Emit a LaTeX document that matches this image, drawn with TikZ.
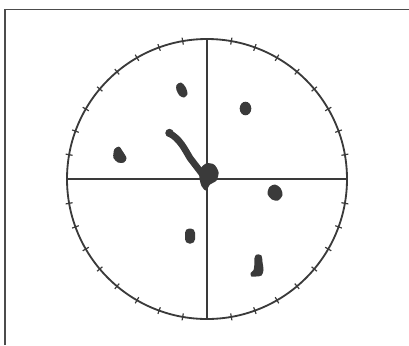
\documentclass[tikz,border=0pt]{standalone}
\usetikzlibrary{calc}
\definecolor{inkgray}{HTML}{3A3A3A}
\begin{document}
\begin{tikzpicture}[x=0.025cm, y=-0.025cm,
  frame/.style={draw=black!70, line width=1.1pt},
  dial/.style={draw=inkgray, line width=1.3pt},
  axisline/.style={draw=inkgray, line width=0.75pt},
  dialtick/.style={draw=inkgray, line width=0.85pt},
  blob/.style={fill=inkgray, draw=none},
  hand/.style={draw=inkgray, line width=4.8pt, line cap=round, line join=round}
]
\useasboundingbox (0,0) rectangle (409,345);
\coordinate (c) at (207,179);
\coordinate (n) at (207,39);
\coordinate (s) at (207,319);
\coordinate (w) at (67,179);
\coordinate (e) at (347,179);
% frame, cut off at right and bottom
\draw[frame] (5,345) -- (5,9.5) -- (409,9.5);
% dial with cross and ticks
\draw[dial] (c) circle [radius=140];
\draw[axisline] (w) -- (e);
\draw[axisline] (n) -- (s);
\foreach \q in {0,90,180,270}
  \foreach \d in {10,20,...,80}
    \draw[dialtick] ($(c)+(\q+\d:136.5)$) -- ($(c)+(\q+\d:143.5)$);
% spots
\fill[blob] plot[smooth cycle] coordinates {(176.5,85) (181,82.5) (185.5,87) (187.5,94) (184,97.5) (179.5,95.5) (176.5,90)};
\fill[blob] (245.5,108.5) ellipse [x radius=5.8, y radius=6.8];
\fill[blob] plot[smooth cycle] coordinates {(114.5,149) (119,146.5) (122.5,151) (126.5,158) (124,162.5) (118,162.5) (113.5,158) (113.5,153)};
\fill[blob] plot[smooth cycle] coordinates {(269.5,187) (275,184.5) (280.5,188) (282.5,195) (278,200.5) (272,199.5) (267.5,194)};
\fill[blob, rounded corners=3pt] (185,228.5) rectangle (195,243.5);
\fill[blob] plot[smooth cycle] coordinates {(256.5,254.5) (261.5,255.5) (262.5,262) (263.5,270) (261.5,275.5) (256,276.5) (251.5,276.5) (250.5,273) (253.5,270) (254.5,263) (254.5,258)};
% hand and hub
\draw[hand] (169,133) .. controls (180,139) and (184,148) .. (190,158) -- (203,175);
\fill[blob] (169.5,133) circle [radius=4.2];
\fill[blob] plot[smooth cycle] coordinates {(199.5,170) (206,163.5) (214,164.5) (218.5,172) (216.5,180.5) (210,184.5) (206,190.5) (201.5,186) (199.5,178)};
\end{tikzpicture}
\end{document}
